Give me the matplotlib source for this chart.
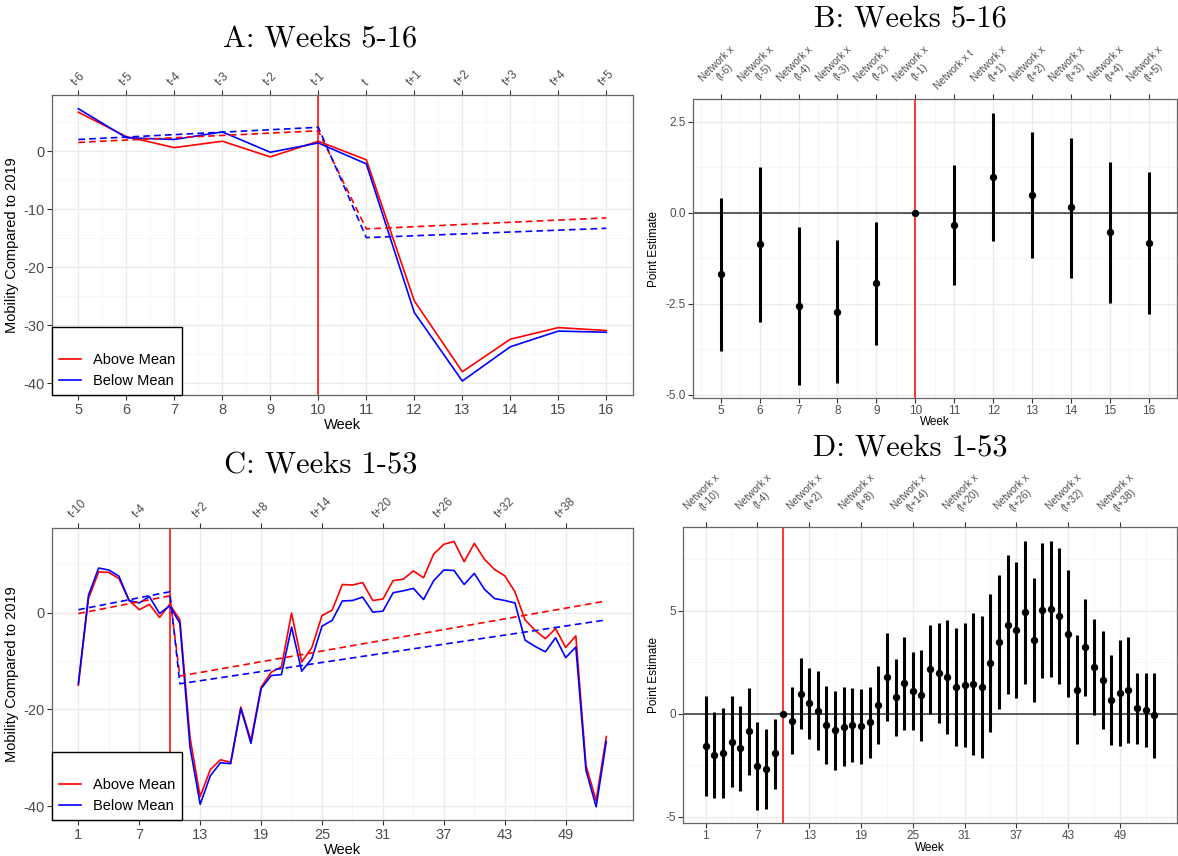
import matplotlib.pyplot as plt
import numpy as np
from matplotlib.ticker import MultipleLocator, FormatStrFormatter

plt.rcParams['font.family'] = ['Liberation Sans', 'DejaVu Sans']
plt.rcParams['axes.unicode_minus'] = False

# ---- data ----
# panel A: mobility, weeks 5-16
weeks_a = [5, 6, 7, 8, 9, 10, 11, 12, 13, 14, 15, 16]
above_a = [6.7, 2.5, 0.6, 1.7, -1.0, 1.7, -1.5, -25.8, -38.0, -32.4, -30.4, -30.9]
below_a = [7.3, 2.3, 2.0, 3.3, -0.2, 1.4, -2.2, -27.8, -39.6, -33.7, -31.0, -31.2]
trend_weeks_a = [5, 10, 11, 16]
trend_above_a = [1.5, 3.5, -13.4, -11.5]
trend_below_a = [2.0, 4.1, -14.9, -13.3]
top_labels_a = ['t-6', 't-5', 't-4', 't-3', 't-2', 't-1', 't',
                't+1', 't+2', 't+3', 't+4', 't+5']

# panel B: point estimates, weeks 5-16
weeks_b = [5, 6, 7, 8, 9, 10, 11, 12, 13, 14, 15, 16]
est_b = [-1.69, -0.86, -2.55, -2.72, -1.94, 0.0, -0.34, 0.99, 0.50, 0.15, -0.54, -0.82]
lo_b = [-3.80, -2.99, -4.72, -4.69, -3.64, 0.0, -1.99, -0.77, -1.23, -1.79, -2.48, -2.77]
hi_b = [0.40, 1.26, -0.38, -0.75, -0.25, 0.0, 1.31, 2.75, 2.23, 2.06, 1.39, 1.13]
top_labels_b = ['Network x\n(t-6)', 'Network x\n(t-5)', 'Network x\n(t-4)',
                'Network x\n(t-3)', 'Network x\n(t-2)', 'Network x\n(t-1)',
                'Network x t', 'Network x\n(t+1)', 'Network x\n(t+2)',
                'Network x\n(t+3)', 'Network x\n(t+4)', 'Network x\n(t+5)']

# panel C: mobility, weeks 1-53
weeks_c = list(range(1, 54))
above_c = [-15.0, 2.9, 8.4, 8.3, 7.0, 2.5, 0.6, 1.7, -1.0, 1.7,
           -1.5, -25.8, -38.0, -32.4, -30.4, -30.9, -19.5, -26.4, -15.4, -12.3,
           -11.2, -0.1, -10.2, -7.2, -0.6, 0.5, 5.8, 5.7, 6.2, 2.5,
           2.8, 6.6, 6.9, 8.6, 7.2, 12.1, 14.1, 14.7, 10.5, 14.3,
           11.0, 8.9, 7.6, 4.3, -1.5, -3.7, -5.4, -3.3, -7.2, -4.8,
           -31.6, -38.8, -25.6]
below_c = [-14.7, 3.6, 9.2, 8.8, 7.5, 2.5, 2.0, 3.3, -0.2, 1.4,
           -2.2, -27.8, -39.6, -33.7, -31.0, -31.2, -19.8, -27.0, -15.7, -13.0,
           -12.8, -3.0, -12.1, -9.5, -2.8, -1.6, 2.4, 2.5, 3.2, 0.1,
           0.3, 4.1, 4.5, 5.0, 2.7, 6.6, 8.8, 8.7, 5.8, 8.1,
           4.8, 2.9, 2.5, 2.0, -5.7, -7.0, -8.1, -5.2, -9.3, -7.1,
           -32.6, -40.1, -26.6]
trend_weeks_c = [1, 10, 11, 53]
trend_above_c = [-0.2, 3.45, -13.1, 2.4]
trend_below_c = [0.6, 4.3, -14.7, -1.5]
top_ticks_c = [1, 7, 13, 19, 25, 31, 37, 43, 49]
top_labels_c = ['t-10', 't-4', 't+2', 't+8', 't+14', 't+20', 't+26', 't+32', 't+38']

# panel D: point estimates, weeks 1-53
weeks_d = list(range(1, 54))
est_d = [-1.55, -1.99, -1.91, -1.38, -1.68, -0.85, -2.53, -2.69, -1.92, 0.0,
         -0.34, 0.98, 0.50, 0.14, -0.53, -0.80, -0.63, -0.53, -0.59, -0.42,
         0.42, 1.78, 0.79, 1.47, 1.11, 0.90, 2.16, 1.97, 1.78, 1.30,
         1.39, 1.43, 1.28, 2.45, 3.46, 4.33, 4.05, 4.92, 3.59, 5.02,
         5.08, 4.76, 3.89, 1.17, 3.24, 2.29, 1.63, 0.67, 0.99, 1.14,
         0.27, 0.19, -0.08]
lo_d = [-4.00, -4.09, -4.09, -3.57, -3.77, -2.96, -4.68, -4.65, -3.64, 0.0,
        -1.96, -0.75, -1.22, -1.76, -2.45, -2.72, -2.56, -2.36, -2.42, -2.13,
        -1.49, -0.35, -1.07, -0.77, -0.80, -1.33, 0.00, -0.45, -0.98, -1.55,
        -1.62, -2.00, -2.16, -0.90, 0.21, 0.95, 0.75, 1.44, 0.56, 1.75,
        1.76, 1.44, 0.82, -1.46, 0.87, -0.06, -0.74, -1.52, -1.55, -1.44,
        -1.46, -1.63, -2.16]
hi_d = [0.85, 0.08, 0.27, 0.85, 0.38, 1.25, -0.40, -0.75, -0.24, 0.0,
        1.28, 2.71, 2.20, 2.05, 1.36, 1.11, 1.30, 1.27, 1.20, 1.28,
        2.32, 3.91, 2.64, 3.72, 3.00, 3.09, 4.31, 4.38, 4.54, 4.14,
        4.42, 4.87, 4.74, 5.80, 6.71, 7.71, 7.37, 8.40, 6.60, 8.29,
        8.40, 8.06, 6.96, 3.80, 5.59, 4.62, 4.01, 2.87, 3.59, 3.70,
        1.99, 1.99, 2.00]
top_labels_d = ['Network x\n(t-10)', 'Network x\n(t-4)', 'Network x\n(t+2)',
                'Network x\n(t+8)', 'Network x\n(t+14)', 'Network x\n(t+20)',
                'Network x\n(t+26)', 'Network x\n(t+32)', 'Network x\n(t+38)']
event_week = 10

TICK_COL = '#4D4D4D'


def style_axes(ax, labelsize, pad=2):
    for s in ax.spines.values():
        s.set_color('#666666')
        s.set_linewidth(0.9)
    ax.grid(which='major', color='#EBEBEB', lw=1.0)
    ax.grid(which='minor', color='#F5F5F5', lw=0.6)
    ax.set_axisbelow(True)
    ax.tick_params(which='major', length=3.5, color='#333333',
                   labelcolor=TICK_COL, labelsize=labelsize, pad=pad)
    ax.tick_params(which='minor', length=0)


def add_top(ax, ticks, labels, size):
    top = ax.secondary_xaxis('top')
    top.set_xticks(ticks)
    top.set_xticklabels(labels, rotation=45, ha='center', va='bottom',
                        multialignment='center', fontsize=size, color=TICK_COL)
    top.tick_params(length=3.5, color='#333333', pad=2)
    top.spines['top'].set_visible(False)


def mobility_panel(ax, weeks, above, below, tw, ta, tb):
    ax.axvline(event_week, color='red', lw=1.1, zorder=2)
    ax.plot(weeks, above, color='red', lw=1.2, label='Above Mean', zorder=3)
    ax.plot(weeks, below, color='blue', lw=1.2, label='Below Mean', zorder=3)
    ax.plot(tw, ta, color='red', lw=1.2, ls=(0, (4, 2.5)), zorder=3)
    ax.plot(tw, tb, color='blue', lw=1.2, ls=(0, (4, 2.5)), zorder=3)
    leg = ax.legend(loc='lower left', bbox_to_anchor=(0, 0), borderaxespad=0,
                    fancybox=False, edgecolor='black', fontsize=10.5,
                    handlelength=1.5, title=' ', title_fontsize=9,
                    borderpad=0.5, labelspacing=0.45, framealpha=1)
    leg.get_frame().set_linewidth(1.0)
    leg.set_zorder(5)
    ax.set_ylabel('Mobility Compared to 2019', fontsize=10.5, labelpad=3)
    ax.set_xlabel('Week', fontsize=10.5, labelpad=1)


def estimate_panel(ax, weeks, est, lo, hi):
    ax.axhline(0, color='#333333', lw=1.1, zorder=2)
    ax.axvline(event_week, color='red', lw=1.1, zorder=2)
    ax.vlines(weeks, lo, hi, color='black', lw=2.2, zorder=3)
    ax.plot(weeks, est, 'o', color='black', ms=4.3, zorder=4)
    ax.set_ylabel('Point Estimate', fontsize=8.5, labelpad=4)
    ax.set_xlabel('Week', fontsize=8.5, labelpad=-0.5)


fig = plt.figure(figsize=(11.78, 8.56), dpi=100)

# A
axA = fig.add_axes([0.0441, 0.5386, 0.493, 0.350])
mobility_panel(axA, weeks_a, above_a, below_a, trend_weeks_a, trend_above_a, trend_below_a)
axA.set_xlim(4.45, 16.55)
axA.set_ylim(-42.0, 9.6)
axA.set_xticks(weeks_a)
axA.xaxis.set_minor_locator(MultipleLocator(0.5))
axA.set_yticks([-40, -30, -20, -10, 0])
axA.yaxis.set_minor_locator(MultipleLocator(5))
style_axes(axA, 10.5)
add_top(axA, weeks_a, top_labels_a, 8.5)

# B
axB = fig.add_axes([0.588, 0.535, 0.411, 0.349])
estimate_panel(axB, weeks_b, est_b, lo_b, hi_b)
axB.set_xlim(4.28, 16.72)
axB.set_ylim(-5.09, 3.12)
axB.set_xticks(weeks_b)
axB.xaxis.set_minor_locator(MultipleLocator(0.5))
axB.set_yticks([-5.0, -2.5, 0.0, 2.5])
axB.yaxis.set_major_formatter(FormatStrFormatter('%.1f'))
axB.yaxis.set_minor_locator(MultipleLocator(1.25))
style_axes(axB, 8.5, pad=1.5)
add_top(axB, weeks_b, top_labels_b, 7.3)

# C
axC = fig.add_axes([0.0441, 0.042, 0.493, 0.341])
mobility_panel(axC, weeks_c, above_c, below_c, trend_weeks_c, trend_above_c, trend_below_c)
axC.set_xlim(-1.6, 55.6)
axC.set_ylim(-42.84, 17.44)
axC.set_xticks(top_ticks_c)
axC.xaxis.set_minor_locator(MultipleLocator(3, offset=1))
axC.set_yticks([-40, -20, 0])
axC.yaxis.set_minor_locator(MultipleLocator(10))
style_axes(axC, 10.5)
add_top(axC, top_ticks_c, top_labels_c, 8.5)

# D
axD = fig.add_axes([0.580, 0.038, 0.419, 0.346])
estimate_panel(axD, weeks_d, est_d, lo_d, hi_d)
axD.set_xlim(-1.6, 55.6)
axD.set_ylim(-5.33, 9.05)
axD.set_xticks(top_ticks_c)
axD.xaxis.set_minor_locator(MultipleLocator(3, offset=1))
axD.set_yticks([-5, 0, 5])
axD.yaxis.set_minor_locator(MultipleLocator(2.5))
style_axes(axD, 8.5, pad=1.5)
add_top(axD, top_ticks_c, top_labels_d, 7.3)

# titles
title_kw = dict(fontsize=22, family='cmr10', ha='center', va='center')
fig.text(0.272, 0.953, 'A: Weeks 5-16', **title_kw)
fig.text(0.773, 0.978, 'B: Weeks 5-16', **title_kw)
fig.text(0.272, 0.456, 'C: Weeks 1-53', **title_kw)
fig.text(0.773, 0.477, 'D: Weeks 1-53', **title_kw)

fig.savefig('out.png', dpi=100)
